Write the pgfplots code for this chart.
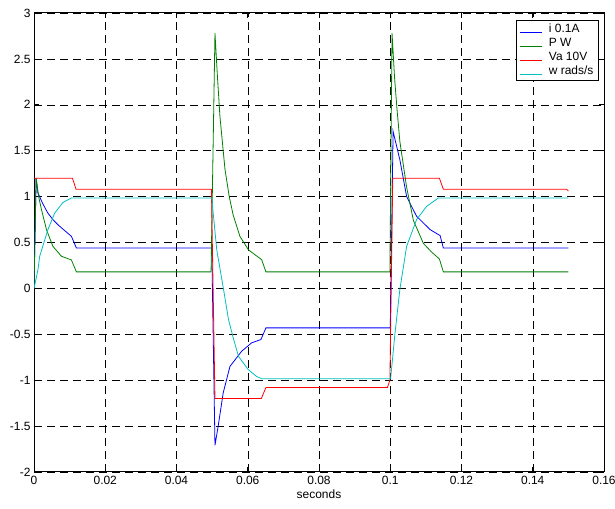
\documentclass[border=0pt]{standalone}
\usepackage{pgfplots}
\pgfplotsset{compat=1.18}
\usepackage{fontspec}
\setmainfont{Liberation Sans}
\usetikzlibrary{calc}

\definecolor{mblue}{rgb}{0,0,1}
\definecolor{mgreen}{rgb}{0,0.5,0}
\definecolor{mred}{rgb}{1,0,0}
\definecolor{mcyan}{rgb}{0,0.75,0.75}

\begin{document}
\begin{tikzpicture}
\begin{axis}[
    name=ax,
    scale only axis,
    width=570bp, height=459bp,
    xmin=0, xmax=0.16, ymin=-2, ymax=3,
    xtick={0,0.02,...,0.16},
    ytick={-2,-1.5,...,3},
    xticklabels={0,0.02,0.04,0.06,0.08,0.1,0.12,0.14,0.16},
    yticklabels={-2,-1.5,-1,-0.5,0,0.5,1,1.5,2,2.5,3},
    tick align=inside, tick pos=both,
    major tick length=5bp,
    tick style={black, line width=0.6bp},
    axis line style={black, line width=1bp},
    grid=major,
    grid style={black, line width=0.5bp, dash pattern=on 8bp off 5bp},
    tick label style={font=\fontsize{12}{14}\selectfont},
    xticklabel style={yshift=-1bp},
    xlabel={seconds},
    xlabel style={font=\fontsize{12}{14}\selectfont, yshift=2bp},
    legend style={font=\fontsize{12}{14}\selectfont, at={(0.991,0.985)}, anchor=north east,
        draw=black, line width=0.9bp, inner xsep=3bp, inner ysep=2bp,
        /tikz/every odd column/.append style={column sep=5bp}},
    legend cell align=left,
    legend image code/.code={\draw[#1, line width=0.8bp, yshift=-3.5bp] (0bp,0bp) -- (22bp,0bp);},
    every axis plot/.append style={line width=0.8bp, no markers},
]
\addplot[mblue] coordinates {
 (0,0) (0.0006,1.2) (0.0011,1.04) (0.0025,0.92) (0.0039,0.82) (0.0053,0.75)
 (0.0067,0.694) (0.0086,0.63) (0.0105,0.567) (0.0119,0.44) (0.0499,0.44)
 (0.0508,-1.71) (0.0517,-1.5) (0.0531,-1.14) (0.055,-0.85) (0.0583,-0.684)
 (0.0611,-0.593) (0.0637,-0.557) (0.0651,-0.43) (0.1,-0.43)
 (0.1008,1.71) (0.1027,1.40) (0.1046,1.0) (0.1074,0.785) (0.1112,0.64)
 (0.1140,0.575) (0.1149,0.44) (0.15,0.44)
};
\addlegendentry{i 0.1A}
\addplot[mgreen] coordinates {
 (0,0) (0.0006,1.2) (0.0013,1.0) (0.0021,0.857) (0.0035,0.64) (0.0053,0.458)
 (0.0077,0.35) (0.0105,0.31) (0.0119,0.18) (0.0497,0.18)
 (0.0508,2.78) (0.0515,2.3) (0.0522,1.87) (0.0536,1.3) (0.0548,1.0)
 (0.0559,0.8) (0.0578,0.567) (0.0602,0.42) (0.0639,0.313) (0.0651,0.18)
 (0.0999,0.18) (0.1005,2.78) (0.1012,2.3) (0.1019,1.95) (0.1027,1.6)
 (0.1046,1.1) (0.1065,0.74) (0.1093,0.49) (0.1115,0.4) (0.1138,0.32)
 (0.1149,0.18) (0.15,0.18)
};
\addlegendentry{P W}
\addplot[mred] coordinates {
 (0,1.2) (0.0108,1.2) (0.0118,1.08) (0.0498,1.08) (0.0508,-1.2) (0.0638,-1.2)
 (0.0651,-1.08) (0.0992,-1.08) (0.0999,-1.0) (0.1007,1.2) (0.1138,1.2)
 (0.1149,1.08) (0.1495,1.08) (0.150,1.06)
};
\addlegendentry{Va 10V}
\addplot[mcyan] coordinates {
 (0,0) (0.0011,0.2) (0.0016,0.35) (0.0039,0.64) (0.0058,0.82) (0.0081,0.935)
 (0.0105,0.985) (0.0499,0.985) (0.0506,0.7) (0.0513,0.42) (0.0532,-0.01)
 (0.0546,-0.34) (0.056,-0.55) (0.0574,-0.74) (0.0601,-0.883) (0.0625,-0.96)
 (0.064,-0.985) (0.1001,-0.985) (0.1013,-0.5) (0.1027,-0.01) (0.1046,0.458)
 (0.1074,0.75) (0.1102,0.893) (0.1135,0.985) (0.15,0.985)
};
\addlegendentry{w rads/s}
\end{axis}
\pgfresetboundingbox
\path ($(ax.south west)+(-34bp,-37bp)$) rectangle ($(ax.north east)+(11bp,13bp)$);
\end{tikzpicture}
\end{document}
